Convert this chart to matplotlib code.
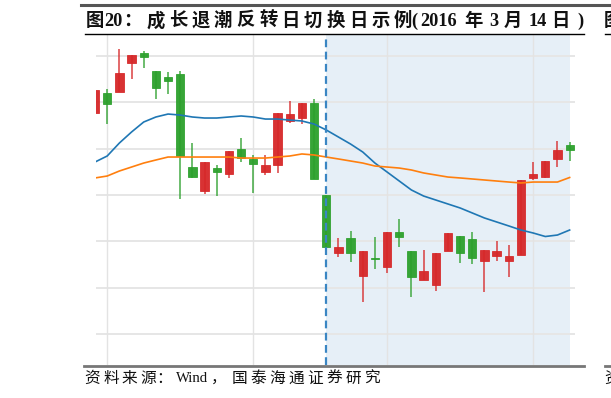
import matplotlib
matplotlib.use("Agg")
import matplotlib.pyplot as plt
from matplotlib.lines import Line2D
import numpy as np

# ---------------- data ----------------
opens  = [123.85, 126.01, 126.12, 129.25, 130.33, 128.38, 127.74, 128.06, 118.02, 115.43,
          117.91, 117.27, 119.97, 118.89, 117.48, 118.24, 122.99, 123.31, 124.93, 115.00,
          108.74, 110.36, 106.26, 108.20, 107.23, 111.01, 108.96, 105.83, 105.29, 108.96,
          110.58, 110.25, 107.88, 108.42, 107.88, 108.53, 116.84, 116.94, 118.89, 120.40]
highs  = [126.40, 126.44, 130.76, 130.11, 130.54, 128.38, 128.27, 128.38, 120.61, 118.56,
          118.24, 119.75, 121.15, 119.32, 119.32, 123.85, 125.15, 124.93, 125.36, 115.00,
          110.36, 111.12, 108.96, 110.47, 111.01, 112.41, 108.96, 109.07, 108.74, 110.90,
          110.58, 111.01, 109.07, 110.04, 109.60, 116.62, 118.56, 118.67, 120.83, 120.72]
lows   = [123.80, 122.66, 126.12, 127.52, 128.71, 125.36, 125.90, 114.57, 116.84, 115.11,
          114.89, 116.84, 118.56, 115.22, 117.16, 117.38, 122.77, 122.66, 116.73, 108.85,
          108.31, 107.77, 103.45, 107.01, 106.58, 109.39, 103.99, 105.83, 104.64, 108.96,
          107.66, 107.55, 104.53, 107.88, 106.15, 108.53, 116.62, 116.84, 118.02, 118.67]
closes = [126.33, 124.82, 128.17, 130.11, 129.89, 126.55, 127.30, 119.21, 116.94, 118.56,
          117.48, 119.75, 118.99, 118.35, 118.24, 123.85, 123.74, 124.93, 116.73, 109.39,
          109.39, 108.74, 108.96, 108.09, 111.01, 110.47, 106.15, 106.80, 108.74, 110.90,
          108.74, 108.20, 109.07, 108.96, 108.42, 116.62, 117.27, 118.67, 119.86, 119.86]
ma_short = [118.56, 119.21, 120.61, 121.80, 122.88, 123.42, 123.74, 123.63, 123.42, 123.31,
            123.31, 123.42, 123.53, 123.42, 123.20, 123.20, 123.09, 122.99, 122.66, 122.02,
            121.26, 120.50, 119.64, 118.45, 117.48, 116.51, 115.54, 114.89, 114.46, 114.03,
            113.60, 113.06, 112.52, 112.09, 111.66, 111.22, 110.90, 110.52, 110.68, 111.22]
ma_long = [116.84, 117.05, 117.59, 118.02, 118.45, 118.78, 119.10, 119.10, 119.10, 119.10,
           119.10, 119.10, 118.99, 118.99, 118.99, 119.10, 119.21, 119.43, 119.32, 119.10,
           118.89, 118.67, 118.45, 118.13, 118.02, 117.91, 117.70, 117.38, 117.16, 116.94,
           116.84, 116.73, 116.62, 116.51, 116.40, 116.30, 116.40, 116.40, 116.40, 116.89]
event_index = 19
vgrid_index = [1, 13, 24, 36]
hgrid_values = [100, 105, 110, 115, 120, 125, 130]

title_pieces = ["图", "20", "：", "成", "长", "退", "潮", "反", "转", "日", "切", "换", "日",
                "示", "例", "(", "2016", "年", "3", "月", "14", "日", ")"]
source_pieces = ["资", "料", "来", "源", "：", "Wind", "，", "国", "泰", "海", "通", "证",
                 "券", "研", "究"]
next_title = "图"
next_source = "资"

# ---------------- figure ----------------
W, H = 611, 398
fig = plt.figure(figsize=(W / 100, H / 100), dpi=100)

def fx(px):
    return px / W

def fy(py):
    return 1 - py / H

ax = fig.add_axes([fx(96), fy(365), fx(575) - fx(96), fy(34) - fy(365)])
ax.set_xlim(0.08, 39.44)
ax.set_ylim(96.65, 132.38)
for s in ax.spines.values():
    s.set_visible(False)
ax.set_xticks([])
ax.set_yticks([])
ax.patch.set_alpha(0)

# shaded region and grid
ax.axvspan(event_index, len(opens) - 0.95, color="#e6eff7", zorder=0, lw=0)
for v in hgrid_values:
    ax.axhline(v, color="#e6e6e6", lw=1.4, zorder=0.5)
for i in vgrid_index:
    ax.axvline(i, color="#e3e3e3", lw=1.0, zorder=0.5)

red = "#d62728"
green = "#2ca02c"
x = np.arange(len(opens))
for i in x:
    o, h, l, c = opens[i], highs[i], lows[i], closes[i]
    col = red if c >= o else green
    ax.vlines(i, l, h, color=col, lw=1.3, alpha=0.75, zorder=2)
    bottom = min(o, c)
    height = max(abs(c - o), 0.12)
    ax.bar(i, height, bottom=bottom, width=0.68, color=col, alpha=0.95,
           edgecolor=col, linewidth=0.6, zorder=3)

ax.plot(x, ma_short, color="#1f77b4", lw=1.2, zorder=4)
ax.plot(x, ma_long, color="#ff7f0e", lw=1.2, zorder=4)
ax.axvline(event_index, color="#3a86c3", lw=1.6, ls=(0, (3.5, 2)), zorder=5)

# ---------------- decorations ----------------
fam = ["Liberation Serif", "Noto Sans CJK SC"]
fig.add_artist(Line2D([fx(81), fx(611)], [fy(5), fy(5)], color="#555555", lw=2.2))
fig.add_artist(Line2D([fx(85), fx(584)], [fy(33.5), fy(33.5)], color="black", lw=1.0))
fig.add_artist(Line2D([fx(605), fx(611)], [fy(33.5), fy(33.5)], color="black", lw=1.0))
fig.add_artist(Line2D([fx(84), fx(584)], [fy(366), fy(366)], color="#777777", lw=2.0))
fig.add_artist(Line2D([fx(605), fx(611)], [fy(366), fy(366)], color="#777777", lw=2.0))

title_x = [86, 104, 123, 146.5, 169, 191.5, 214, 236.5, 259, 281.5, 304, 326.5, 349,
           371.5, 394, 411, 420, 464.5, 489, 503.5, 529, 551.5, 577]
for px, t in zip(title_x, title_pieces):
    fig.text(fx(px), fy(21), t, family=fam, fontweight="bold", fontsize=13.2,
             va="center", ha="left", color="#111111")
fig.text(fx(604), fy(21), next_title, family=fam, fontweight="bold", fontsize=13.2,
         va="center", ha="left", color="#111111")

source_x = [84.5, 103, 121.5, 140, 156, 176, 211, 231.5, 250.5, 269.5, 288.5, 307.5,
            326.5, 345.5, 364.5]
for px, t in zip(source_x, source_pieces):
    fs = 10.6 if t == "Wind" else 11.3
    fig.text(fx(px), fy(379), t, family=fam, fontsize=fs,
             va="center", ha="left", color="#111111")
fig.text(fx(604), fy(379), next_source, family=fam, fontsize=11.3,
         va="center", ha="left", color="#111111")

fig.savefig("out.png", dpi=100)
